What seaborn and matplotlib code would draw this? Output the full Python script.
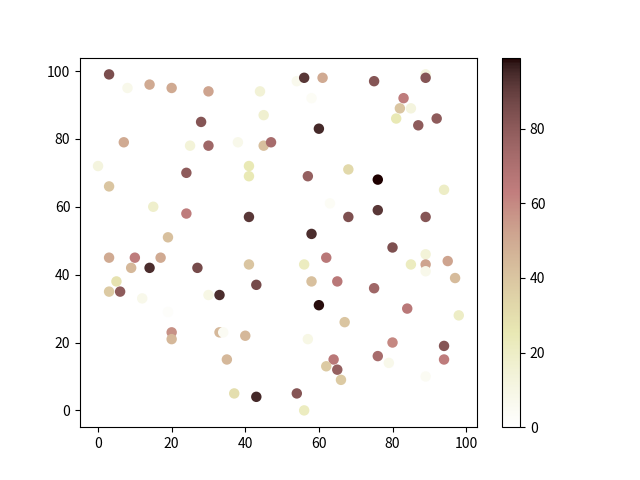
import matplotlib
matplotlib.use('Agg')
import matplotlib.pyplot as plt
import numpy as np
import pandas as pd
import seaborn as sns

plt.rcParams['font.family'] = ['Noto Sans CJK SC', 'DejaVu Sans']

# values
x = [3, 8, 14, 20, 30, 44, 45, 28, 7, 25, 30, 38, 45, 47, 0, 41, 41, 24, 3, 15,
     24, 41, 19, 3, 10, 17, 9, 14, 27, 41, 5, 3, 6, 12, 30, 33, 43, 19, 20, 20,
     33, 34, 40, 35, 37, 43, 9, 54, 56, 61, 75, 89, 89, 58, 83, 82, 85, 81, 87, 92,
     60, 57, 68, 76, 94, 63, 68, 76, 89, 58, 80, 56, 62, 58, 65, 75, 85, 89, 89, 89,
     95, 97, 60, 67, 84, 98, 57, 80, 94, 94, 76, 79, 89, 64, 62, 65, 66, 54, 56]
y = [99, 95, 96, 95, 94, 94, 87, 85, 79, 78, 78, 79, 78, 79, 72, 72, 69, 70, 66, 60,
     58, 57, 51, 45, 45, 45, 42, 42, 42, 43, 38, 35, 35, 33, 34, 34, 37, 29, 23, 21,
     23, 23, 22, 15, 5, 4, 4, 97, 98, 98, 97, 99, 98, 92, 92, 89, 89, 86, 84, 86,
     83, 69, 71, 68, 65, 61, 57, 59, 57, 52, 48, 43, 45, 38, 38, 36, 43, 46, 43, 41,
     44, 39, 31, 26, 30, 28, 21, 20, 19, 15, 16, 14, 10, 15, 13, 12, 9, 5, 0]
colors = [85, 8, 50, 50, 52, 15, 17, 82, 50, 14, 75, 8, 42, 72, 12, 25, 25, 80, 40, 18,
          64, 92, 42, 50, 64, 50, 45, 94, 86, 40, 28, 38, 80, 8, 10, 94, 86, 2, 58, 45,
          45, 5, 45, 45, 30, 95, 0, 7, 92, 50, 82, 12, 82, 4, 64, 40, 12, 25, 80, 80,
          95, 78, 32, 99, 20, 4, 84, 92, 82, 94, 84, 22, 66, 42, 66, 75, 22, 14, 52, 8,
          52, 44, 98, 40, 66, 20, 10, 60, 82, 64, 72, 8, 5, 66, 38, 78, 38, 82, 22]

df = pd.DataFrame({'x': x, 'y': y, 'c': colors})
vmin, vmax = min(colors), max(colors)

fig, ax = plt.subplots(figsize=(6.4, 4.8), dpi=100)
sns.scatterplot(data=df, x='x', y='y', hue='c', palette='pink_r',
                hue_norm=(vmin, vmax), s=36, linewidth=1.5, edgecolor='face',
                legend=False, ax=ax)
ax.set_xlabel('')
ax.set_ylabel('')
ax.set_xticks([0, 20, 40, 60, 80, 100])
ax.set_yticks([0, 20, 40, 60, 80, 100])

sm = plt.cm.ScalarMappable(cmap='pink_r', norm=plt.Normalize(vmin, vmax))
fig.colorbar(sm, ax=ax)

fig.savefig('out.png')
